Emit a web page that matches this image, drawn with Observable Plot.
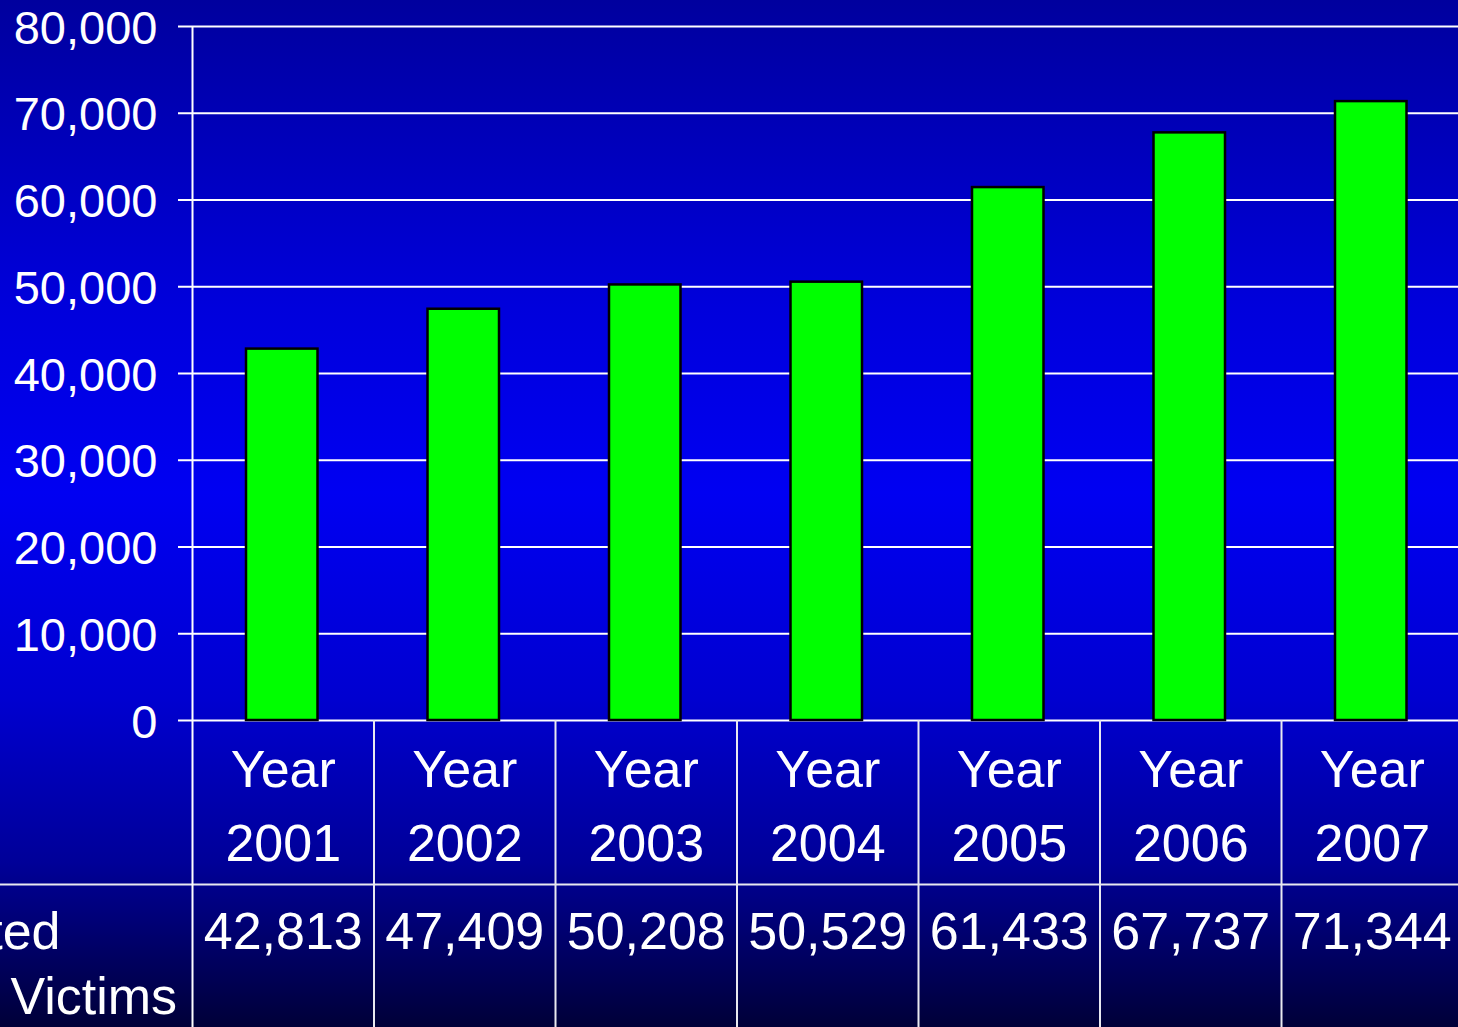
<!DOCTYPE html>
<html>
<head>
<meta charset="utf-8">
<script src="https://cdn.jsdelivr.net/npm/d3@7"></script>
<script src="https://cdn.jsdelivr.net/npm/@observablehq/plot@0.6"></script>
<style>
  html, body { margin: 0; padding: 0; width: 1458px; height: 1027px; overflow: hidden; }
  body {
    background: linear-gradient(to bottom, #00009e 0%, #0000dc 30%, #0000f2 48%, #0000d0 68%, #000098 84%, #000038 100%);
    font-family: "Liberation Sans", Arial, sans-serif;
  }
  #chart svg { display: block; }
</style>
</head>
<body>
<div id="chart"></div>
<script>
const years = ["2001", "2002", "2003", "2004", "2005", "2006", "2007"];
const victims = [42813, 47409, 50208, 50529, 61433, 67737, 71344];
const yTicks = [0, 10000, 20000, 30000, 40000, 50000, 60000, 70000, 80000];
const rowLabelTop = "Reported";
const rowLabelBottom = "Victims";

const data = years.map((y, i) => ({year: y, value: victims[i]}));
const fmt = d3.format(",");
const font = "Liberation Sans, Arial, sans-serif";

const W = 1458, H = 1027;
const mLeft = 192, plotBottom = 720, mTop = 26;
const xRange = [mLeft, 1462.5];
const step = (xRange[1] - xRange[0]) / years.length;

const chart = Plot.plot({
  width: W,
  height: H,
  marginLeft: mLeft,
  marginRight: 0,
  marginTop: mTop,
  marginBottom: H - plotBottom,
  style: {background: "transparent", color: "white", fontFamily: font, overflow: "hidden"},
  x: {domain: years, range: xRange, padding: 0, round: false, axis: null},
  y: {domain: [0, 80000], axis: null},
  marks: [
    Plot.ruleY(yTicks, {stroke: "white", strokeWidth: 2, strokeOpacity: 1, insetLeft: -14}),
    Plot.axisY({ticks: yTicks, tickSize: 0, tickPadding: 35, tickFormat: fmt, fontSize: 47, fill: "white", dy: 2, label: null}),
    Plot.barY(data, {x: "year", y: "value", fill: "#00ff00", stroke: "black", strokeWidth: 2.5, insetLeft: 54, insetRight: 56}),
    Plot.ruleY([0], {stroke: "#e8e8f0", strokeWidth: 2, dy: 164, insetLeft: -mLeft}),
    Plot.ruleX(years.slice(1), {stroke: "#e8e8f0", strokeWidth: 2, dx: -step / 2, insetTop: plotBottom - mTop, insetBottom: -(H - plotBottom)}),
    Plot.ruleX([years[0]], {stroke: "white", strokeWidth: 2, dx: -step / 2, insetBottom: -(H - plotBottom)}),
    Plot.text(years, {x: d => d, text: d => `Year\n${d}`, frameAnchor: "bottom", lineAnchor: "middle", lineHeight: 1.41, dy: 80, fontSize: 52, fill: "white"}),
    Plot.text(data, {x: "year", text: d => fmt(d.value), frameAnchor: "bottom", lineAnchor: "middle", dy: 212, fontSize: 52, fill: "white"}),
    Plot.text([rowLabelTop], {frameAnchor: "bottom-left", textAnchor: "end", lineAnchor: "middle", dx: 60 - mLeft, dy: 212, fontSize: 52, fill: "white"}),
    Plot.text([rowLabelBottom], {frameAnchor: "bottom-left", textAnchor: "start", lineAnchor: "middle", dx: 10 - mLeft, dy: 277, fontSize: 52, fill: "white"})
  ]
});
document.getElementById("chart").appendChild(chart);
</script>
</body>
</html>
